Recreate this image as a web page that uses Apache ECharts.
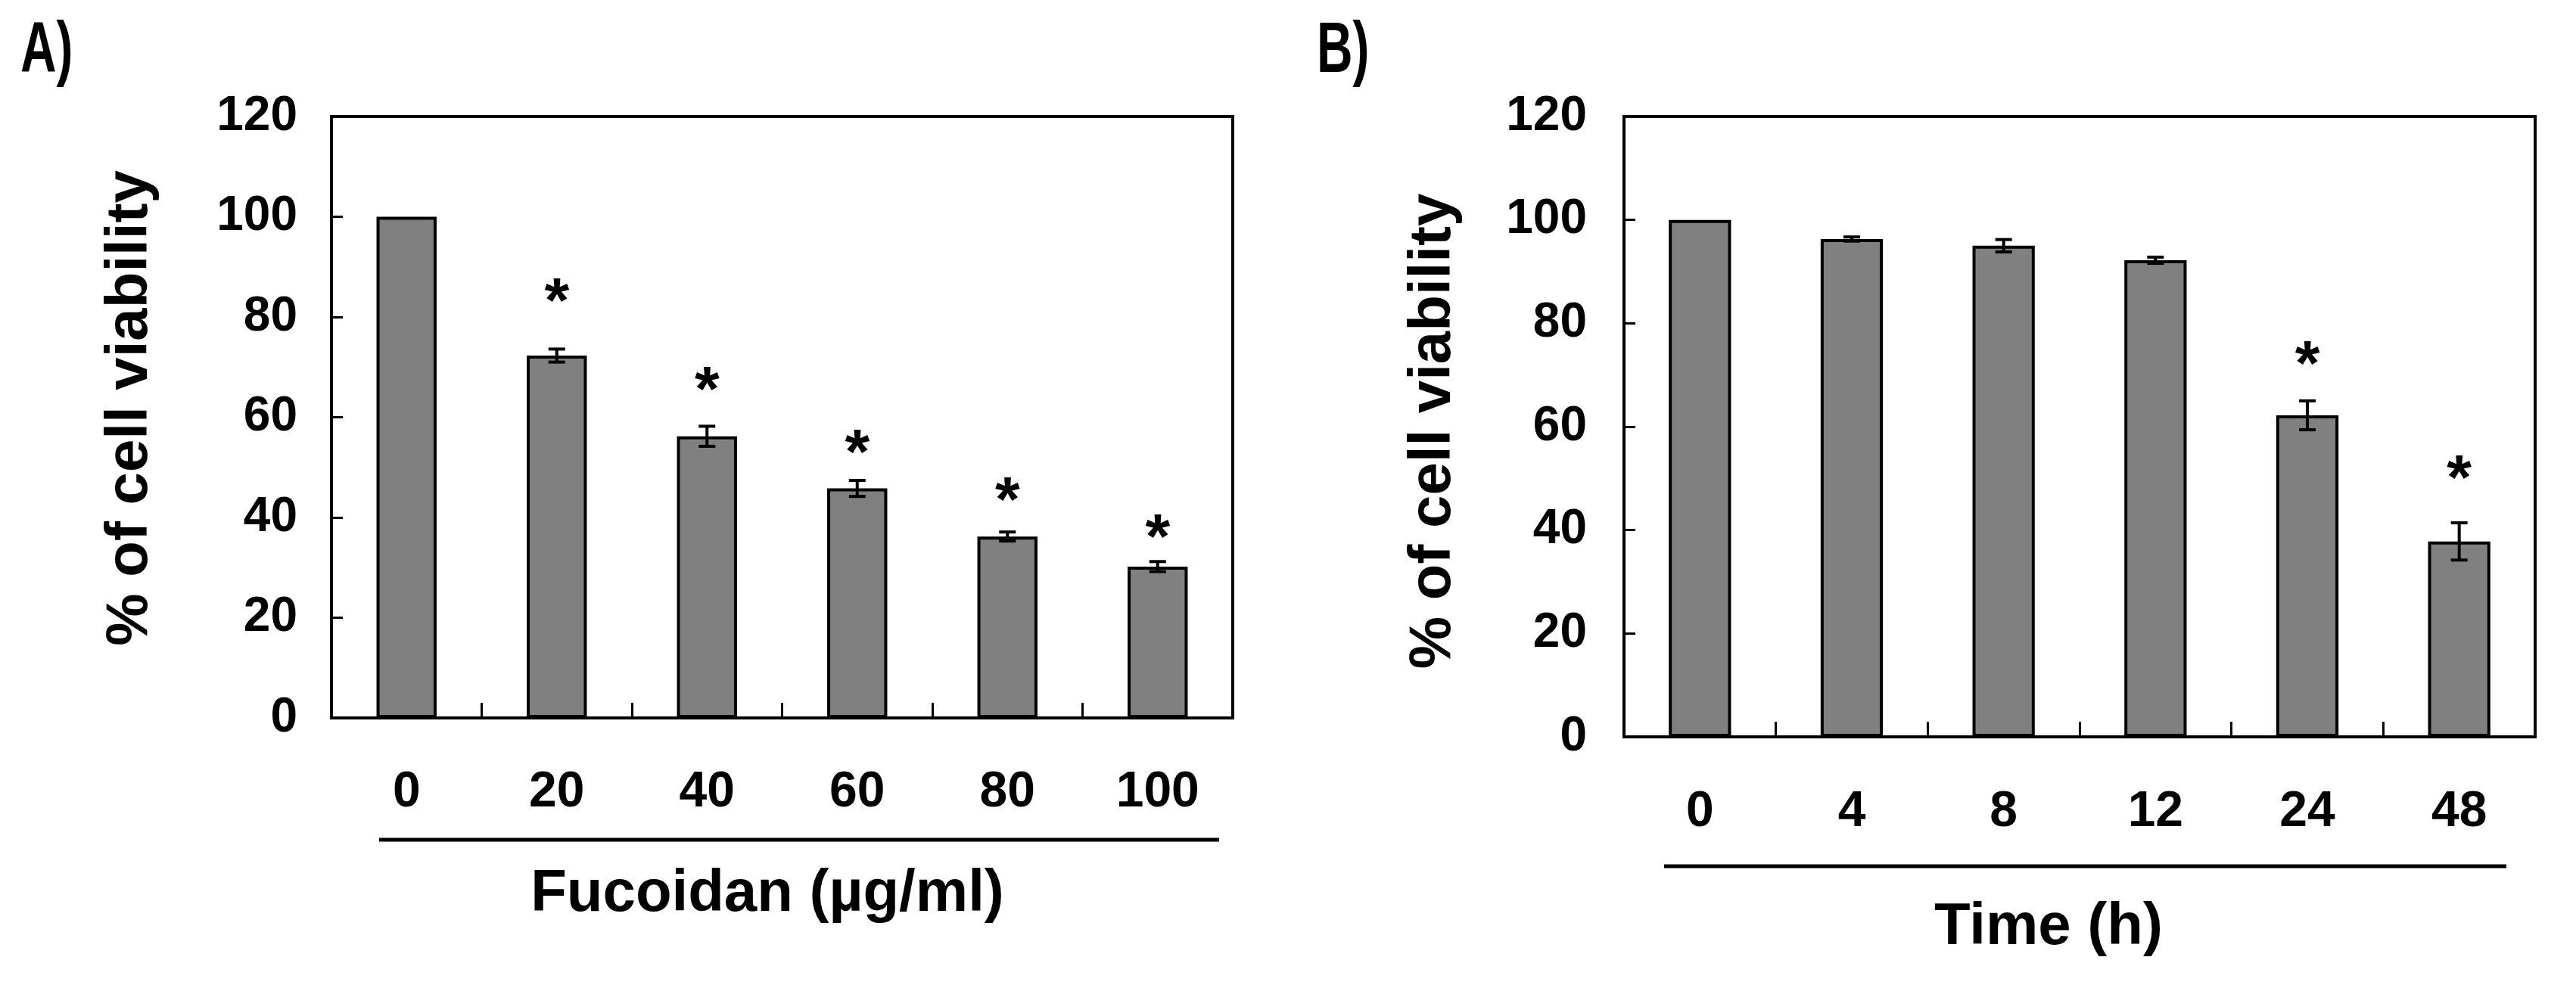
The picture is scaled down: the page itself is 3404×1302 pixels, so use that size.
<!DOCTYPE html>
<html><head><meta charset="utf-8">
<script src="https://cdn.jsdelivr.net/npm/echarts@6/dist/echarts.min.js"></script>
<style>html,body{margin:0;padding:0;background:#fff}#c{width:3404px;height:1302px}</style>
</head><body><div id="c"></div>
<script>
// ---- data ----
const catsA = ['0', '20', '40', '60', '80', '100'];
const valsA = [100, 72.3, 56.2, 45.8, 36.2, 30.2];
const errA  = [0, 1.3, 2.0, 1.6, 0.9, 1.0];
const starA = [null, 85.3, 67.7, 55.1, 45.6, 38.2];   // significance marks (value level)

const catsB = ['0', '4', '8', '12', '24', '48'];
const valsB = [100, 96.3, 95.0, 92.2, 62.2, 37.8];
const errB  = [0, 0.4, 1.2, 0.6, 2.8, 3.6];
const starB = [null, null, null, null, 74.2, 52.1];

const yMin = 0, yMax = 120, yStep = 20;
const xTitleA = 'Fucoidan (µg/ml)';
const xTitleB = 'Time (h)';
const yTitle = '% of cell viability';
const panelA = 'A)', panelB = 'B)';

// ---- chart ----
const F = "'Liberation Sans', Arial, sans-serif";
const chart = echarts.init(document.getElementById('c'), null, {renderer: 'canvas'});

function errItem(params, api) {
  const i = api.value(0), v = api.value(1), e = api.value(2);
  if (!e) return null;
  const t = api.coord([i, v + e]), b = api.coord([i, v - e]);
  const cap = 11, st = {stroke: '#000', lineWidth: 4};
  return {type: 'group', children: [
    {type: 'line', shape: {x1: t[0], y1: t[1], x2: b[0], y2: b[1]}, style: st},
    {type: 'line', shape: {x1: t[0] - cap, y1: t[1], x2: t[0] + cap, y2: t[1]}, style: st},
    {type: 'line', shape: {x1: b[0] - cap, y1: b[1], x2: b[0] + cap, y2: b[1]}, style: st}
  ]};
}
function starItem(params, api) {
  const p = api.coord([api.value(0), api.value(1)]);
  return {type: 'text', x: p[0], y: p[1] + 19,
    style: {text: '*', fontSize: 84, fontWeight: 'bold', fontFamily: F, fill: '#000',
            align: 'center', verticalAlign: 'middle'}};
}
const toErr = (v, e) => v.map((x, i) => [i, x, e[i]]);
const toStar = s => s.map((x, i) => x == null ? null : [i, x]).filter(Boolean);

function yAxisCfg(gi, margin, gap, pad) {
  return {
    type: 'value', gridIndex: gi, min: yMin, max: yMax, interval: yStep,
    axisLine: {show: true, lineStyle: {color: '#000', width: 4}},
    axisTick: {show: true, inside: true, length: 15, lineStyle: {color: '#000', width: 3}},
    axisLabel: {color: '#000', fontSize: 64, fontWeight: 'bold', fontFamily: F, margin: margin},
    splitLine: {show: false},
    name: yTitle, nameLocation: 'middle', nameGap: gap,
    nameTextStyle: {color: '#000', fontSize: 78, fontWeight: 'bold', fontFamily: F, padding: pad}
  };
}
function xAxisCfg(gi, cats, margin, title, gap, pad) {
  return {
    type: 'category', gridIndex: gi, data: cats, boundaryGap: true,
    axisLine: {show: true, lineStyle: {color: '#000', width: 4}},
    axisTick: {show: true, inside: true, length: 20, alignWithLabel: false, lineStyle: {color: '#000', width: 3}},
    axisLabel: {color: '#000', fontSize: 66, fontWeight: 'bold', fontFamily: F, margin: margin},
    name: title, nameLocation: 'middle', nameGap: gap,
    nameTextStyle: {color: '#000', fontSize: 78, fontWeight: 'bold', fontFamily: F, padding: pad}
  };
}
const barStyle = {color: '#808080', borderColor: '#000', borderWidth: 4};

chart.setOption({
  animation: false,
  backgroundColor: '#fff',
  grid: [
    {left: 438, top: 154, width: 1191, height: 795, show: true, borderColor: '#000', borderWidth: 4, backgroundColor: 'transparent'},
    {left: 2146, top: 154, width: 1204, height: 820, show: true, borderColor: '#000', borderWidth: 4, backgroundColor: 'transparent'}
  ],
  xAxis: [
    xAxisCfg(0, catsA, 66, xTitleA, 194, [0, 39, 0, 0]),
    xAxisCfg(1, catsB, 67, xTitleB, 213, [0, 82, 0, 0])
  ],
  yAxis: [
    yAxisCfg(0, 45, 227, [0, 0, 0, 24]),
    yAxisCfg(1, 49, 213, [0, 12, 0, 0])
  ],
  series: [
    {type: 'bar', xAxisIndex: 0, yAxisIndex: 0, data: valsA, barWidth: '40%', itemStyle: barStyle},
    {type: 'bar', xAxisIndex: 1, yAxisIndex: 1, data: valsB, barWidth: '41%', itemStyle: barStyle},
    {type: 'custom', xAxisIndex: 0, yAxisIndex: 0, data: toErr(valsA, errA), renderItem: errItem, encode: {x: 0, y: 1}, z: 5},
    {type: 'custom', xAxisIndex: 1, yAxisIndex: 1, data: toErr(valsB, errB), renderItem: errItem, encode: {x: 0, y: 1}, z: 5},
    {type: 'custom', xAxisIndex: 0, yAxisIndex: 0, data: toStar(starA), renderItem: starItem, encode: {x: 0, y: 1}, z: 6},
    {type: 'custom', xAxisIndex: 1, yAxisIndex: 1, data: toStar(starB), renderItem: starItem, encode: {x: 0, y: 1}, z: 6}
  ],
  graphic: [
    {type: 'text', x: 27, y: 22, scaleX: 0.7, style: {text: panelA, fontSize: 94, fontWeight: 'bold', fontFamily: F, fill: '#000', verticalAlign: 'top'}},
    {type: 'text', x: 1740, y: 22, scaleX: 0.7, style: {text: panelB, fontSize: 94, fontWeight: 'bold', fontFamily: F, fill: '#000', verticalAlign: 'top'}},
    {type: 'line', shape: {x1: 501, y1: 1110, x2: 1611, y2: 1110}, style: {stroke: '#000', lineWidth: 5}},
    {type: 'line', shape: {x1: 2199, y1: 1145, x2: 3312, y2: 1145}, style: {stroke: '#000', lineWidth: 5}}
  ]
});
</script></body></html>
